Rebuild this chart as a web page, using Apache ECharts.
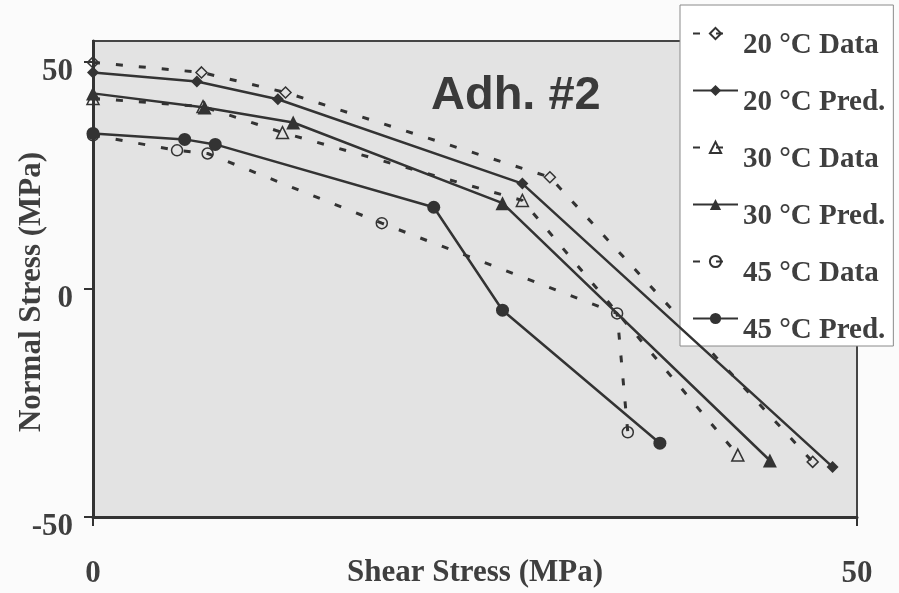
<!DOCTYPE html>
<html>
<head>
<meta charset="utf-8">
<script src="https://cdn.jsdelivr.net/npm/echarts@6/dist/echarts.min.js"></script>
<style>
  html, body { margin: 0; padding: 0; background: #fbfbfb; }
  #chart { width: 899px; height: 593px; }
</style>
</head>
<body>
<div id="chart"></div>
<script>
// Shear stress (x) vs normal stress (y), MPa, for Adhesive #2
const seriesNames = ['20 °C Data', '20 °C Pred.', '30 °C Data', '30 °C Pred.', '45 °C Data', '45 °C Pred.'];

const data20 = [[0, 49.8], [7.1, 47.6], [12.6, 43.2], [29.9, 24.6], [47.1, -37.9]];
const pred20 = [[0, 47.6], [6.8, 45.6], [12.1, 41.7], [28.1, 23.2], [48.4, -39.0]];
const data30 = [[0, 41.9], [7.2, 40.1], [12.4, 34.4], [28.1, 19.5], [42.2, -36.4]];
const pred30 = [[0, 43.0], [7.3, 39.9], [13.1, 36.6], [26.8, 18.9], [44.3, -37.6]];
const data45 = [[0, 33.8], [5.5, 30.5], [7.5, 29.8], [18.9, 14.5], [34.3, -5.3], [35.0, -31.4]];
const pred45 = [[0, 34.2], [6.0, 32.9], [8.0, 31.8], [22.3, 18.0], [26.8, -4.6], [37.1, -33.8]];

const xTicks = [0, 50];
const yTicks = [-50, 0, 50];

const ink = '#333333';
const textColor = '#3f3f3f';
const serif = '"Liberation Serif", "Times New Roman", serif';
const axisFont = 31;
const legendFont = 29;

function dataSeries(name, data, symbol, size) {
  return {
    name, type: 'line', data, symbol, symbolSize: size,
    lineStyle: { color: ink, width: 3, type: [7, 16] },
    itemStyle: { color: 'rgba(0,0,0,0)', borderColor: ink, borderWidth: 1.5 },
    z: 3
  };
}
function predSeries(name, data, symbol, size) {
  return {
    name, type: 'line', data, symbol, symbolSize: size,
    lineStyle: { color: ink, width: 2.5, type: 'solid' },
    itemStyle: { color: ink, borderWidth: 0 },
    z: 4
  };
}

const chart = echarts.init(document.getElementById('chart'), null, { renderer: 'canvas' });
chart.setOption({
  animation: false,
  backgroundColor: '#fbfbfb',
  title: {
    text: 'Adh. #2', left: 431, top: 73, padding: 0,
    textStyle: { fontFamily: '"Liberation Sans", Arial, sans-serif', fontWeight: 'bold', fontSize: 47, color: '#3a3a3a' }
  },
  grid: {
    left: 93, right: 42, top: 41, bottom: 76,
    outerBoundsMode: 'none', containLabel: false,
    show: true, backgroundColor: '#e3e3e3', borderColor: '#454545', borderWidth: 2
  },
  legend: {
    orient: 'vertical', left: 680, top: 5,
    data: seriesNames,
    backgroundColor: '#ffffff', borderColor: '#8a8a8a', borderWidth: 1,
    padding: [2, 8, 1, 12],
    itemWidth: 45, itemHeight: 14, itemGap: 4,
    formatter: name => '{t|' + name + '}',
    textStyle: {
      fontFamily: serif, fontWeight: 'bold', fontSize: legendFont, color: textColor,
      rich: { t: { fontFamily: serif, fontWeight: 'bold', fontSize: legendFont, color: textColor, lineHeight: 30, padding: [24, 0, 0, 0] } }
    }
  },
  xAxis: {
    type: 'value', min: 0, max: 50, interval: 50,
    name: 'Shear Stress (MPa)', nameLocation: 'middle', nameGap: 40, nameMoveOverlap: false,
    nameTextStyle: { fontFamily: serif, fontWeight: 'bold', fontSize: axisFont, color: textColor },
    axisLine: { onZero: false, lineStyle: { color: ink, width: 3 } },
    axisTick: { length: 9, lineStyle: { color: ink, width: 2 }, customValues: xTicks },
    axisLabel: { margin: 41, fontFamily: serif, fontWeight: 'bold', fontSize: axisFont, color: textColor, customValues: xTicks },
    splitLine: { show: false }
  },
  yAxis: {
    type: 'value', min: -50, max: 54.5, interval: 50,
    name: 'Normal Stress (MPa)', nameLocation: 'middle', nameGap: 46, nameMoveOverlap: false,
    nameTextStyle: { fontFamily: serif, fontWeight: 'bold', fontSize: axisFont, color: textColor, padding: [0, 26, 0, 0] },
    axisLine: { onZero: false, lineStyle: { color: ink, width: 3 } },
    axisTick: { length: 9, lineStyle: { color: ink, width: 2 }, customValues: yTicks },
    axisLabel: {
      margin: 20, color: textColor, customValues: yTicks,
      formatter: v => '{t|' + v + '}',
      rich: { t: { fontFamily: serif, fontWeight: 'bold', fontSize: axisFont, color: textColor, padding: [20, 0, 0, 0] } }
    },
    splitLine: { show: false }
  },
  series: [
    dataSeries(seriesNames[0], data20, 'diamond', 11),
    predSeries(seriesNames[1], pred20, 'diamond', 12),
    dataSeries(seriesNames[2], data30, 'triangle', 12),
    predSeries(seriesNames[3], pred30, 'triangle', 14),
    dataSeries(seriesNames[4], data45, 'circle', 11),
    predSeries(seriesNames[5], pred45, 'circle', 13)
  ]
});
</script>
</body>
</html>
